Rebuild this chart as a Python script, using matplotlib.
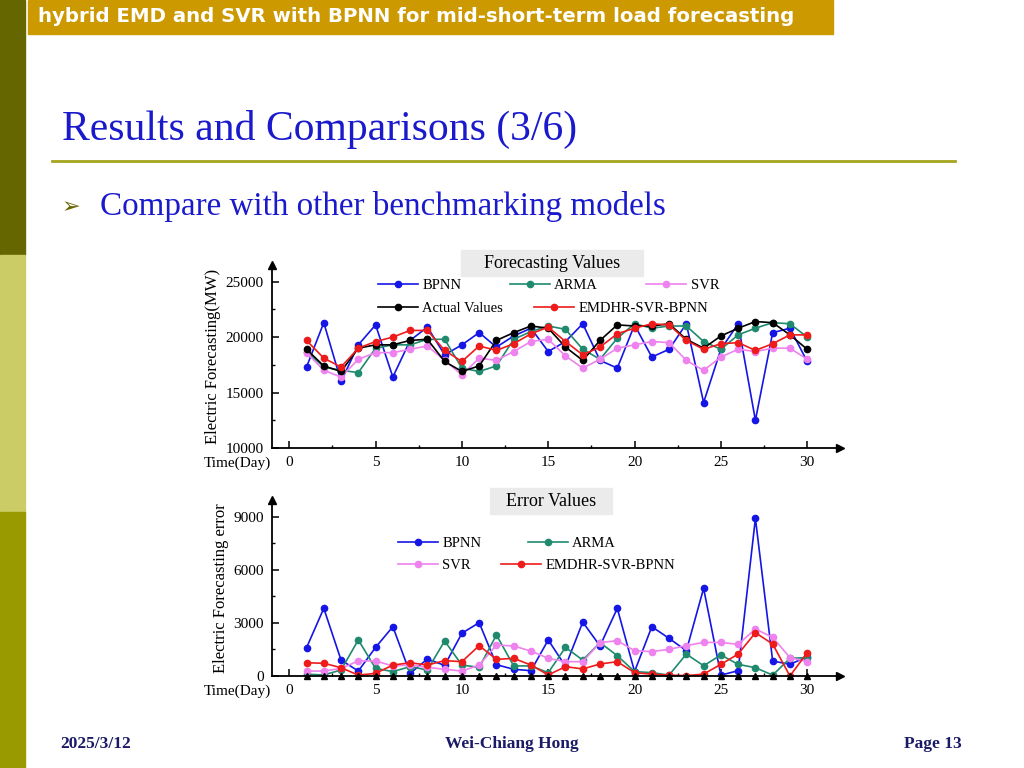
import matplotlib
matplotlib.use("Agg")
from matplotlib import pyplot as plt
from matplotlib.patches import Rectangle
from matplotlib.lines import Line2D
from matplotlib.legend import Legend

DAYS = list(range(1, 31))

# forecasting values (MW)
ACTUAL = [18900, 17400, 16900, 19000, 19300, 19300, 19700, 19800, 17800, 16900,
          17400, 19700, 20400, 21000, 20800, 19100, 17900, 19700, 21100, 21000,
          21000, 21200, 19800, 19000, 20100, 20800, 21400, 21300, 20200, 18900]
BPNN = [17300, 21300, 16000, 19300, 21100, 16400, 19700, 20900, 18400, 19300,
        20400, 19100, 20100, 20800, 18700, 19600, 21200, 17900, 17200, 21100,
        18200, 18900, 21200, 14100, 18900, 21200, 12500, 20400, 20800, 17800]
ARMA = [18700, 17300, 17000, 16800, 19000, 19300, 19300, 19800, 19800, 17200,
        16900, 17400, 19800, 20500, 21000, 20700, 18900, 18000, 19900, 21200,
        20800, 21000, 21000, 19600, 18900, 20200, 20800, 21300, 21200, 20000]
SVR = [18600, 17000, 16400, 18000, 18600, 18600, 18900, 19200, 17900, 16600,
       18100, 17900, 18700, 19600, 19800, 18300, 17200, 18000, 19000, 19300,
       19600, 19500, 17900, 17000, 18200, 18900, 18700, 19000, 19000, 18000]
EMDHR = [19700, 18100, 17300, 19000, 19600, 20000, 20600, 20600, 18800, 17800,
         19200, 18800, 19400, 20300, 20900, 19600, 18400, 19100, 20300, 20800,
         21200, 21100, 19700, 18900, 19400, 19500, 18800, 19400, 20200, 20200]

# error values
ERR_ACTUAL = [0] * 30
ERR_BPNN = [1600, 3830, 900, 280, 1620, 2790, 150, 960, 600, 2420,
            3020, 640, 380, 300, 2040, 550, 3050, 1700, 3830, 250,
            2790, 2130, 1430, 4960, 50, 300, 8920, 850, 660, 1090]
ERR_ARMA = [100, 60, 340, 2040, 430, 250, 530, 340, 1980, 620,
            490, 2320, 570, 570, 190, 1620, 900, 1890, 1150, 250,
            190, 50, 1240, 580, 1190, 660, 470, 50, 1000, 1040]
ERR_SVR = [280, 280, 430, 850, 850, 570, 620, 490, 380, 280,
           620, 1750, 1700, 1410, 1000, 810, 810, 1890, 2000, 1430,
           1380, 1510, 1720, 1900, 1900, 1790, 2660, 2190, 1040, 810]
ERR_EMDHR = [750, 720, 470, 50, 150, 620, 750, 620, 870, 810,
             1720, 940, 1000, 620, 60, 530, 400, 680, 810, 190,
             100, 50, 20, 110, 660, 1240, 2450, 1810, 0, 1320]

C_BPNN = "#1515e6"
C_ARMA = "#1f8a6e"
C_SVR = "#ee82ee"
C_ACT = "#000000"
C_EMD = "#ee1b1b"
SERIF = "Liberation Serif"

W, H = 1024.0, 768.0


def fx(px):
    return px / W


def fy(py):
    return 1 - py / H


def style_axis(ax, ymin, ymax, yticks, minor_y):
    ax.set_xlim(-1.0, 31.9)
    ax.set_ylim(ymin, ymax)
    for s in ["top", "right"]:
        ax.spines[s].set_visible(False)
    for s in ["left", "bottom"]:
        ax.spines[s].set_linewidth(1.3)
    ax.set_xticks([0, 5, 10, 15, 20, 25, 30])
    ax.set_xticks([2.5, 7.5, 12.5, 17.5, 22.5, 27.5], minor=True)
    ax.set_yticks(yticks)
    ax.set_yticks(minor_y, minor=True)
    ax.tick_params(which="major", direction="in", length=5, width=1.1,
                   labelsize=11, pad=6)
    ax.tick_params(which="minor", direction="in", length=2.5, width=1)
    for lab in ax.get_xticklabels() + ax.get_yticklabels():
        lab.set_fontfamily(SERIF)
    ax.plot(1, 0, ">k", ms=6, transform=ax.transAxes, clip_on=False)
    ax.plot(0, 1, "^k", ms=6, transform=ax.transAxes, clip_on=False)


def row_legend(ax, handles, labels, x, y, spacing):
    leg = Legend(ax, handles, labels, ncol=len(handles), loc="center left",
                 bbox_to_anchor=(fx(x), fy(y)), bbox_transform=fig.transFigure,
                 frameon=False, prop={"family": SERIF, "size": 10.5},
                 handlelength=2.75, handletextpad=0.3, columnspacing=spacing,
                 borderpad=0, borderaxespad=0)
    ax.add_artist(leg)


def title_box(x0, x1, y0, y1, text):
    fig.patches.append(Rectangle((fx(x0), fy(y1)), (x1 - x0) / W, (y1 - y0) / H,
                                 transform=fig.transFigure, color="#ebebeb", zorder=0))
    fig.text(fx((x0 + x1) / 2), fy((y0 + y1) / 2), text, family=SERIF, fontsize=13,
             va="center", ha="center")


fig = plt.figure(figsize=(10.24, 7.68), dpi=100)

# slide decorations
fig.patches.append(Rectangle((0, fy(255)), fx(25), 255 / H,
                             transform=fig.transFigure, color="#666600", zorder=0))
fig.patches.append(Rectangle((0, fy(512)), fx(25), 257 / H,
                             transform=fig.transFigure, color="#CCCC66", zorder=0))
fig.patches.append(Rectangle((0, 0), fx(25), 256 / H,
                             transform=fig.transFigure, color="#999900", zorder=0))
fig.patches.append(Rectangle((fx(28), fy(34)), 805 / W, 34 / H,
                             transform=fig.transFigure, color="#CC9900", zorder=0))
fig.text(fx(38), fy(17), "hybrid EMD and SVR with BPNN for mid-short-term load forecasting",
         color="white", fontsize=14.2, fontweight="bold", family="DejaVu Sans",
         va="center", ha="left")
fig.text(fx(62), fy(129), "Results and Comparisons (3/6)", color="#1a1acc",
         fontsize=30, family=SERIF, va="center", ha="left")
fig.lines.append(Line2D([fx(52), fx(955)], [fy(161), fy(161)],
                        transform=fig.transFigure, color="#A5A51E", lw=2))
fig.text(fx(62), fy(207), "\u27a2", color="#666600", fontsize=16,
         family="DejaVu Sans", va="center", ha="left")
fig.text(fx(100), fy(206), "Compare with other benchmarking models", color="#1a1acc",
         fontsize=23.9, family=SERIF, va="center", ha="left")
fig.text(fx(60), fy(744), "2025/3/12", color="#1a1a66", fontsize=12.5,
         fontweight="bold", family=SERIF, va="center", ha="left")
fig.text(fx(512), fy(744), "Wei-Chiang Hong", color="#1a1a66", fontsize=12.5,
         fontweight="bold", family=SERIF, va="center", ha="center")
fig.text(fx(962), fy(744), "Page 13", color="#1a1a66", fontsize=12.5,
         fontweight="bold", family=SERIF, va="center", ha="right")

mk = dict(marker="o", ms=4.5, lw=1.2)

# top chart: forecasting values
ax1 = fig.add_axes([fx(272), fy(448), 568 / W, 183 / H])
h_b, = ax1.plot(DAYS, BPNN, color=C_BPNN, label="BPNN", **mk)
h_ar, = ax1.plot(DAYS, ARMA, color=C_ARMA, label="ARMA", **mk)
h_s, = ax1.plot(DAYS, SVR, color=C_SVR, label="SVR", **mk)
h_a, = ax1.plot(DAYS, ACTUAL, color=C_ACT, label="Actual Values", **mk)
h_e, = ax1.plot(DAYS, EMDHR, color=C_EMD, label="EMDHR-SVR-BPNN", **mk)
style_axis(ax1, 10000, 26500, [10000, 15000, 20000, 25000], [12500, 17500, 22500])
row_legend(ax1, [h_b, h_ar, h_s], ["BPNN", "ARMA", "SVR"], 378, 285, 3.3)
row_legend(ax1, [h_a, h_e], ["Actual Values", "EMDHR-SVR-BPNN"], 378, 308, 2.1)
ax1.set_ylabel("Electric Forecasting(MW)", family=SERIF, fontsize=12, labelpad=3)
fig.text(fx(237), fy(463), "Time(Day)", family=SERIF, fontsize=11,
         va="center", ha="center")
title_box(461, 643, 250, 276, "Forecasting Values")

# bottom chart: error values
ax2 = fig.add_axes([fx(272), fy(676), 568 / W, 176 / H])
g_b, = ax2.plot(DAYS, ERR_BPNN, color=C_BPNN, label="BPNN", **mk)
g_ar, = ax2.plot(DAYS, ERR_ARMA, color=C_ARMA, label="ARMA", **mk)
g_s, = ax2.plot(DAYS, ERR_SVR, color=C_SVR, label="SVR", **mk)
g_e, = ax2.plot(DAYS, ERR_EMDHR, color=C_EMD, label="EMDHR-SVR-BPNN", **mk)
ax2.plot(DAYS, ERR_ACTUAL, color=C_ACT, marker="^", ms=4, lw=0, clip_on=False)
style_axis(ax2, 0, 9960, [0, 3000, 6000, 9000], [1500, 4500, 7500])
row_legend(ax2, [g_b, g_ar], ["BPNN", "ARMA"], 398, 543, 3.15)
row_legend(ax2, [g_s, g_e], ["SVR", "EMDHR-SVR-BPNN"], 398, 565, 2.05)
ax2.set_ylabel("Electric Forecasting error", family=SERIF, fontsize=12, labelpad=3)
fig.text(fx(237), fy(691), "Time(Day)", family=SERIF, fontsize=11,
         va="center", ha="center")
title_box(490, 612, 488, 514, "Error Values")

plt.savefig("out.png", dpi=100)
